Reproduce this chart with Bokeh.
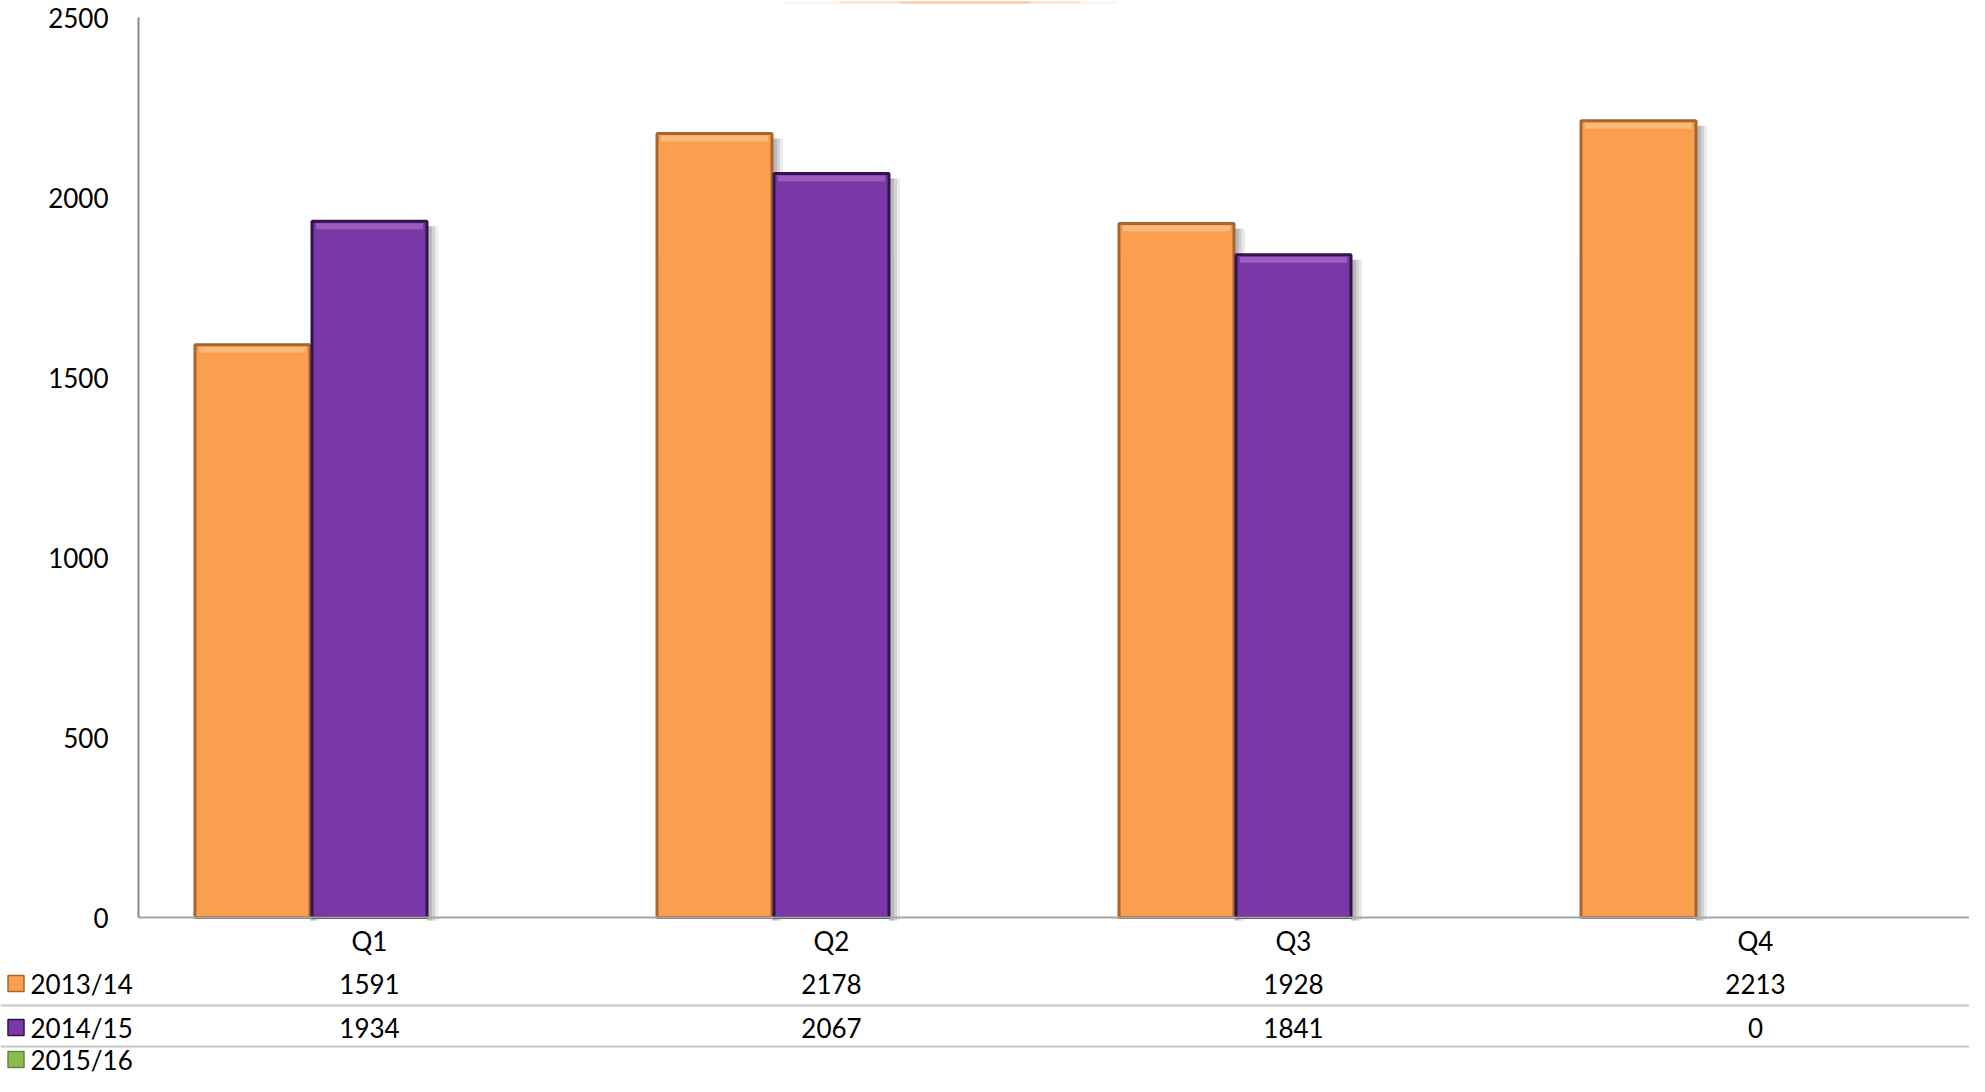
from bokeh.plotting import figure
from bokeh.models import Range1d, FixedTicker, Span
from bokeh.core.properties import value
from bokeh.embed import file_html
from bokeh.resources import INLINE

# ---------------- data ----------------
quarters = ["Q1", "Q2", "Q3", "Q4"]
series_names = ["2013/14", "2014/15", "2015/16"]
s2013 = [1591, 2178, 1928, 2213]
s2014 = [1934, 2067, 1841, 0]
s2015 = [None, None, None, None]
y_ticks = [0, 500, 1000, 1500, 2000, 2500]

# ---------------- styles ----------------
FONT = "Lato"
FSIZE = "26px"
fills = ["#FA9F4E", "#7937A7", "#8CB94B"]
edges = ["#A8652F", "#33144A", "#5F8A2E"]
highlights = ["#FDC58F", "#A46FCB", "#B5D98A"]

W, H = 1969, 1076
AXIS_X = 138          # px of value axis from left
CAT_PX = 462          # px per quarter
BASE_Y = 917          # px of the zero line from top
TOP_Y = 17            # px of 2500 from top
YMAX = 2500
PXY = YMAX / (BASE_Y - TOP_Y)   # data units per px (y)
PXX = 1.0 / CAT_PX              # data units per px (x)

BAR_W = 115 * PXX
OFFSETS = [-117 * PXX, 0.0, 117 * PXX]

x_range = Range1d(-AXIS_X * PXX, (W - AXIS_X) * PXX)
y_range = Range1d(-(H - BASE_Y) * PXY, YMAX + TOP_Y * PXY)

p = figure(width=W, height=H, x_range=x_range, y_range=y_range,
           output_backend="svg", toolbar_location=None, title=None,
           min_border=0, tools="")
p.outline_line_color = None
p.xgrid.visible = False
p.ygrid.visible = False
p.background_fill_color = "white"
p.border_fill_color = "white"

# value axis
p.yaxis.fixed_location = 0
p.yaxis.ticker = FixedTicker(ticks=y_ticks)
p.yaxis.bounds = (0, YMAX)
p.yaxis.major_tick_line_color = None
p.yaxis.minor_tick_line_color = None
p.yaxis.axis_line_color = "#8A8A8A"
p.yaxis.axis_line_width = 2
p.yaxis.major_label_text_font = FONT
p.yaxis.major_label_text_font_size = FSIZE
p.yaxis.major_label_text_color = "#000000"
p.yaxis.major_label_standoff = 24

# category axis
centers = [i + 0.5 for i in range(len(quarters))]
p.xaxis.fixed_location = 0
p.xaxis.ticker = FixedTicker(ticks=centers)
p.xaxis.major_label_overrides = {c: q for c, q in zip(centers, quarters)}
p.xaxis.bounds = (0, x_range.end)
p.xaxis.major_tick_line_color = None
p.xaxis.minor_tick_line_color = None
p.xaxis.axis_line_color = "#A6A6A6"
p.xaxis.axis_line_width = 2
p.xaxis.major_label_text_font = FONT
p.xaxis.major_label_text_font_size = FSIZE
p.xaxis.major_label_text_color = "#000000"
p.xaxis.major_label_standoff = 1

# faint orange streak at the very top (decoration)
streak_y = YMAX + (TOP_Y - 2) * PXY
for x0, x1, a in [(783, 1117, 0.12), (840, 1080, 0.2), (900, 1030, 0.35)]:
    p.segment(x0=[(x0 - AXIS_X) * PXX], x1=[(x1 - AXIS_X) * PXX],
              y0=[streak_y], y1=[streak_y], line_color="#F79646",
              line_alpha=a, line_width=2)

# bars
all_series = [s2013, s2014, s2015]
for k, vals in enumerate(all_series):
    xs = [c + OFFSETS[k] for c, v in zip(centers, vals) if v]
    tops = [v for v in vals if v]
    if not xs:
        continue
    # soft shadow on the right
    for w_px, a in [(11, 0.08), (8, 0.10), (5, 0.12)]:
        p.quad(left=[x + BAR_W / 2 for x in xs], right=[x + BAR_W / 2 + w_px * PXX for x in xs],
               top=[t - 5 * PXY for t in tops], bottom=[-3 * PXY] * len(tops),
               fill_color="#000000", fill_alpha=a, line_color=None)
    p.vbar(x=xs, top=tops, bottom=0, width=BAR_W,
           fill_color=fills[k], line_color=edges[k], line_width=3)
    # bevel highlight near top
    p.quad(left=[x - BAR_W / 2 + 4 * PXX for x in xs], right=[x + BAR_W / 2 - 4 * PXX for x in xs],
           top=[t - 2 * PXY for t in tops], bottom=[t - 8 * PXY for t in tops],
           fill_color=highlights[k], fill_alpha=0.7, line_color=None)

# data table below the chart
row_px = [66, 110, 142]
sep_px = [88, 129]
row_ys = [-r * PXY for r in row_px]

for k, vals in enumerate(all_series):
    txt_x = [c for c, v in zip(centers, vals) if v is not None]
    txt = [str(v) for v in vals if v is not None]
    if txt:
        p.text(x=txt_x, y=[row_ys[k]] * len(txt), text=txt,
               text_font=value(FONT), text_font_size=FSIZE, text_color="#000000",
               text_align="center", text_baseline="middle")

KEY_X = (15.5 - AXIS_X) * PXX
LABEL_X = (30 - AXIS_X) * PXX
p.scatter(x=[KEY_X] * 3, y=row_ys, marker="square", size=16,
          fill_color=fills, line_color=edges, line_width=1.5)
p.text(x=[LABEL_X] * 3, y=row_ys, text=series_names,
       text_font=value(FONT), text_font_size=FSIZE, text_color="#000000",
       text_align="left", text_baseline="middle")

for s in sep_px:
    p.add_layout(Span(location=-s * PXY, dimension="width",
                      line_color="#C6C6C6", line_width=2))

open("out.html", "w").write(file_html(p, INLINE))
